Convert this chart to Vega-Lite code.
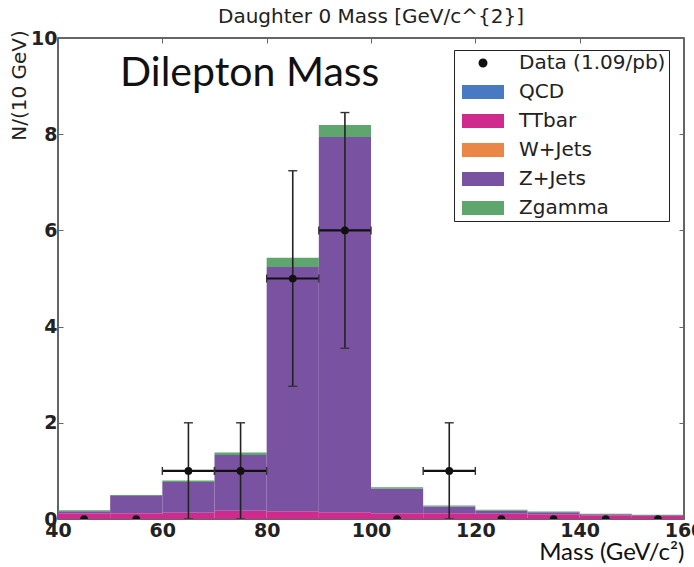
{
  "$schema": "https://vega.github.io/schema/vega-lite/v6.json",
  "width": 626,
  "height": 481,
  "autosize": {"type": "none"},
  "padding": {"left": 58, "top": 38, "right": 10, "bottom": 48},
  "background": "white",
  "title": {
    "text": "Daughter 0 Mass [GeV/c^{2}]",
    "font": "DejaVu Sans",
    "fontSize": 20,
    "fontWeight": "normal",
    "color": "#222",
    "anchor": "middle",
    "offset": 2
  },
  "config": {
    "view": {"stroke": "#333", "strokeWidth": 1.5},
    "axis": {
      "domain": false,
      "grid": false,
      "labelFont": "DejaVu Sans",
      "labelFontWeight": "bold",
      "labelFontSize": 19,
      "labelColor": "#222",
      "labelFlush": false,
      "labelOverlap": false,
      "tickColor": "#666",
      "tickWidth": 1,
      "tickSize": -5,
      "labelPadding": 7
    },
    "legend": {
      "orient": "none",
      "legendX": 396,
      "legendY": 12,
      "title": null,
      "padding": 3,
      "rowPadding": 9,
      "clipHeight": 20,
      "labelFont": "DejaVu Sans",
      "labelFontSize": 20,
      "labelColor": "#222",
      "labelOffset": 42,
      "symbolOffset": 0,
      "symbolSize": 100,
      "symbolStrokeWidth": 0,
      "symbolOpacity": 1,
      "strokeColor": "#222",
      "fillColor": "white",
      "labelLimit": 300
    }
  },
  "datasets": {
    "hist": [
      {"lo": 40, "hi": 50, "series": "QCD", "ord": 1, "value": 0},
      {"lo": 40, "hi": 50, "series": "TTbar", "ord": 2, "value": 0.12},
      {"lo": 40, "hi": 50, "series": "W+Jets", "ord": 3, "value": 0},
      {"lo": 40, "hi": 50, "series": "Z+Jets", "ord": 4, "value": 0.04},
      {"lo": 40, "hi": 50, "series": "Zgamma", "ord": 5, "value": 0.02},
      {"lo": 50, "hi": 60, "series": "QCD", "ord": 1, "value": 0},
      {"lo": 50, "hi": 60, "series": "TTbar", "ord": 2, "value": 0.12},
      {"lo": 50, "hi": 60, "series": "W+Jets", "ord": 3, "value": 0},
      {"lo": 50, "hi": 60, "series": "Z+Jets", "ord": 4, "value": 0.36},
      {"lo": 50, "hi": 60, "series": "Zgamma", "ord": 5, "value": 0.02},
      {"lo": 60, "hi": 70, "series": "QCD", "ord": 1, "value": 0},
      {"lo": 60, "hi": 70, "series": "TTbar", "ord": 2, "value": 0.13},
      {"lo": 60, "hi": 70, "series": "W+Jets", "ord": 3, "value": 0},
      {"lo": 60, "hi": 70, "series": "Z+Jets", "ord": 4, "value": 0.64},
      {"lo": 60, "hi": 70, "series": "Zgamma", "ord": 5, "value": 0.03},
      {"lo": 70, "hi": 80, "series": "QCD", "ord": 1, "value": 0},
      {"lo": 70, "hi": 80, "series": "TTbar", "ord": 2, "value": 0.17},
      {"lo": 70, "hi": 80, "series": "W+Jets", "ord": 3, "value": 0},
      {"lo": 70, "hi": 80, "series": "Z+Jets", "ord": 4, "value": 1.16},
      {"lo": 70, "hi": 80, "series": "Zgamma", "ord": 5, "value": 0.05},
      {"lo": 80, "hi": 90, "series": "QCD", "ord": 1, "value": 0},
      {"lo": 80, "hi": 90, "series": "TTbar", "ord": 2, "value": 0.16},
      {"lo": 80, "hi": 90, "series": "W+Jets", "ord": 3, "value": 0},
      {"lo": 80, "hi": 90, "series": "Z+Jets", "ord": 4, "value": 5.08},
      {"lo": 80, "hi": 90, "series": "Zgamma", "ord": 5, "value": 0.19},
      {"lo": 90, "hi": 100, "series": "QCD", "ord": 1, "value": 0},
      {"lo": 90, "hi": 100, "series": "TTbar", "ord": 2, "value": 0.14},
      {"lo": 90, "hi": 100, "series": "W+Jets", "ord": 3, "value": 0},
      {"lo": 90, "hi": 100, "series": "Z+Jets", "ord": 4, "value": 7.8},
      {"lo": 90, "hi": 100, "series": "Zgamma", "ord": 5, "value": 0.25},
      {"lo": 100, "hi": 110, "series": "QCD", "ord": 1, "value": 0},
      {"lo": 100, "hi": 110, "series": "TTbar", "ord": 2, "value": 0.12},
      {"lo": 100, "hi": 110, "series": "W+Jets", "ord": 3, "value": 0},
      {"lo": 100, "hi": 110, "series": "Z+Jets", "ord": 4, "value": 0.51},
      {"lo": 100, "hi": 110, "series": "Zgamma", "ord": 5, "value": 0.03},
      {"lo": 110, "hi": 120, "series": "QCD", "ord": 1, "value": 0},
      {"lo": 110, "hi": 120, "series": "TTbar", "ord": 2, "value": 0.12},
      {"lo": 110, "hi": 120, "series": "W+Jets", "ord": 3, "value": 0},
      {"lo": 110, "hi": 120, "series": "Z+Jets", "ord": 4, "value": 0.14},
      {"lo": 110, "hi": 120, "series": "Zgamma", "ord": 5, "value": 0.02},
      {"lo": 120, "hi": 130, "series": "QCD", "ord": 1, "value": 0},
      {"lo": 120, "hi": 130, "series": "TTbar", "ord": 2, "value": 0.11},
      {"lo": 120, "hi": 130, "series": "W+Jets", "ord": 3, "value": 0},
      {"lo": 120, "hi": 130, "series": "Z+Jets", "ord": 4, "value": 0.06},
      {"lo": 120, "hi": 130, "series": "Zgamma", "ord": 5, "value": 0.02},
      {"lo": 130, "hi": 140, "series": "QCD", "ord": 1, "value": 0},
      {"lo": 130, "hi": 140, "series": "TTbar", "ord": 2, "value": 0.1},
      {"lo": 130, "hi": 140, "series": "W+Jets", "ord": 3, "value": 0},
      {"lo": 130, "hi": 140, "series": "Z+Jets", "ord": 4, "value": 0.04},
      {"lo": 130, "hi": 140, "series": "Zgamma", "ord": 5, "value": 0.015},
      {"lo": 140, "hi": 150, "series": "QCD", "ord": 1, "value": 0},
      {"lo": 140, "hi": 150, "series": "TTbar", "ord": 2, "value": 0.08},
      {"lo": 140, "hi": 150, "series": "W+Jets", "ord": 3, "value": 0},
      {"lo": 140, "hi": 150, "series": "Z+Jets", "ord": 4, "value": 0.02},
      {"lo": 140, "hi": 150, "series": "Zgamma", "ord": 5, "value": 0.01},
      {"lo": 150, "hi": 160, "series": "QCD", "ord": 1, "value": 0},
      {"lo": 150, "hi": 160, "series": "TTbar", "ord": 2, "value": 0.06},
      {"lo": 150, "hi": 160, "series": "W+Jets", "ord": 3, "value": 0},
      {"lo": 150, "hi": 160, "series": "Z+Jets", "ord": 4, "value": 0.02},
      {"lo": 150, "hi": 160, "series": "Zgamma", "ord": 5, "value": 0.01}
    ],
    "points": [
      {"mass": 45, "n": 0, "nlo": 0, "nhi": 0, "mlo": 40, "mhi": 50, "series": "Data (1.09/pb)"},
      {"mass": 55, "n": 0, "nlo": 0, "nhi": 0, "mlo": 50, "mhi": 60, "series": "Data (1.09/pb)"},
      {"mass": 65, "n": 1, "nlo": 0, "nhi": 2, "mlo": 60, "mhi": 70, "series": "Data (1.09/pb)"},
      {"mass": 75, "n": 1, "nlo": 0, "nhi": 2, "mlo": 70, "mhi": 80, "series": "Data (1.09/pb)"},
      {"mass": 85, "n": 5, "nlo": 2.76, "nhi": 7.24, "mlo": 80, "mhi": 90, "series": "Data (1.09/pb)"},
      {"mass": 95, "n": 6, "nlo": 3.55, "nhi": 8.45, "mlo": 90, "mhi": 100, "series": "Data (1.09/pb)"},
      {"mass": 105, "n": 0, "nlo": 0, "nhi": 0, "mlo": 100, "mhi": 110, "series": "Data (1.09/pb)"},
      {"mass": 115, "n": 1, "nlo": 0, "nhi": 2, "mlo": 110, "mhi": 120, "series": "Data (1.09/pb)"},
      {"mass": 125, "n": 0, "nlo": 0, "nhi": 0, "mlo": 120, "mhi": 130, "series": "Data (1.09/pb)"},
      {"mass": 135, "n": 0, "nlo": 0, "nhi": 0, "mlo": 130, "mhi": 140, "series": "Data (1.09/pb)"},
      {"mass": 145, "n": 0, "nlo": 0, "nhi": 0, "mlo": 140, "mhi": 150, "series": "Data (1.09/pb)"},
      {"mass": 155, "n": 0, "nlo": 0, "nhi": 0, "mlo": 150, "mhi": 160, "series": "Data (1.09/pb)"}
    ],
    "note": [
      {"mass": 51.9, "n": 9.0, "label": "Dilepton Mass"}
    ]
  },
  "layer": [
    {
      "data": {"name": "hist"},
      "transform": [
        {"stack": "value", "groupby": ["lo"], "sort": [{"field": "ord", "order": "ascending"}], "as": ["v0", "v1"]}
      ],
      "mark": {"type": "rect", "opacity": 1, "strokeWidth": 0},
      "encoding": {
        "x": {
          "field": "lo",
          "type": "quantitative",
          "scale": {"domain": [40, 160], "nice": false, "zero": false},
          "axis": {
            "orient": "bottom",
            "values": [40, 60, 80, 100, 120, 140, 160],
            "title": "Mass (GeV/c²)",
            "titleFont": "Lato",
            "titleFontSize": 24,
            "titleFontWeight": "normal",
            "titleColor": "#111",
            "titleX": 626,
            "titleY": 33,
            "titleAlign": "right",
            "titleBaseline": "middle"
          }
        },
        "x2": {"field": "hi"},
        "y": {
          "field": "v0",
          "type": "quantitative",
          "scale": {"domain": [0, 10], "nice": false},
          "axis": {
            "orient": "left",
            "values": [0, 2, 4, 6, 8, 10],
            "title": "N/(10 GeV)",
            "titleFont": "DejaVu Sans",
            "titleFontSize": 20,
            "titleFontWeight": "normal",
            "titleColor": "#222",
            "titleAngle": 270,
            "titleX": -39,
            "titleY": 47,
            "titleAlign": "center",
            "titleBaseline": "middle",
            "labelPadding": 6
          }
        },
        "y2": {"field": "v1"},
        "color": {
          "field": "series",
          "type": "nominal",
          "scale": {
            "domain": ["Data (1.09/pb)", "QCD", "TTbar", "W+Jets", "Z+Jets", "Zgamma"],
            "range": ["#111111", "#4a79c4", "#cf2b8c", "#ea8747", "#7a52a2", "#5fa56e"]
          }
        }
      }
    },
    {
      "data": {"name": "points"},
      "transform": [{"filter": "datum.n > 0"}],
      "mark": {"type": "rule", "color": "#222", "strokeWidth": 1.6},
      "encoding": {
        "x": {"field": "mass", "type": "quantitative", "axis": null},
        "y": {"field": "nlo", "type": "quantitative", "axis": null},
        "y2": {"field": "nhi"}
      }
    },
    {
      "data": {"name": "points"},
      "transform": [{"filter": "datum.n > 0"}],
      "mark": {"type": "rule", "color": "#111", "strokeWidth": 2.2},
      "encoding": {
        "x": {"field": "mlo", "type": "quantitative", "axis": null},
        "x2": {"field": "mhi"},
        "y": {"field": "n", "type": "quantitative", "axis": null}
      }
    },
    {
      "data": {"name": "points"},
      "transform": [{"filter": "datum.n > 0"}],
      "mark": {"type": "tick", "orient": "horizontal", "color": "#333", "size": 9, "thickness": 1.4, "opacity": 1, "clip": true},
      "encoding": {
        "x": {"field": "mass", "type": "quantitative", "axis": null},
        "y": {"field": "nhi", "type": "quantitative", "axis": null}
      }
    },
    {
      "data": {"name": "points"},
      "transform": [{"filter": "datum.n > 0"}],
      "mark": {"type": "tick", "orient": "horizontal", "color": "#333", "size": 9, "thickness": 1.4, "opacity": 1, "clip": true},
      "encoding": {
        "x": {"field": "mass", "type": "quantitative", "axis": null},
        "y": {"field": "nlo", "type": "quantitative", "axis": null}
      }
    },
    {
      "data": {"name": "points"},
      "transform": [{"filter": "datum.n > 0"}],
      "mark": {"type": "tick", "orient": "vertical", "color": "#333", "size": 8, "thickness": 1.4, "opacity": 1},
      "encoding": {
        "x": {"field": "mlo", "type": "quantitative", "axis": null},
        "y": {"field": "n", "type": "quantitative", "axis": null}
      }
    },
    {
      "data": {"name": "points"},
      "transform": [{"filter": "datum.n > 0"}],
      "mark": {"type": "tick", "orient": "vertical", "color": "#333", "size": 8, "thickness": 1.4, "opacity": 1},
      "encoding": {
        "x": {"field": "mhi", "type": "quantitative", "axis": null},
        "y": {"field": "n", "type": "quantitative", "axis": null}
      }
    },
    {
      "data": {"name": "points"},
      "mark": {"type": "point", "shape": "circle", "filled": true, "color": "#111", "opacity": 1, "size": 60, "clip": true},
      "encoding": {
        "x": {
          "field": "mass",
          "type": "quantitative",
          "axis": {"orient": "top", "labels": false, "title": null, "values": [40, 60, 80, 100, 120, 140, 160]}
        },
        "y": {
          "field": "n",
          "type": "quantitative",
          "axis": {"orient": "right", "labels": false, "title": null, "values": [0, 2, 4, 6, 8, 10]}
        }
      }
    },
    {
      "data": {"name": "points"},
      "transform": [{"filter": "false"}],
      "mark": {"type": "point", "filled": true, "opacity": 1},
      "encoding": {
        "color": {"field": "series", "type": "nominal"},
        "shape": {
          "field": "series",
          "type": "nominal",
          "scale": {
            "domain": ["Data (1.09/pb)", "QCD", "TTbar", "W+Jets", "Z+Jets", "Zgamma"],
            "range": [
              "M-2,0L-2,0ZM7.4,0L7.4,0ZM2.3,0A0.9,0.9 0 1,0 4.1,0A0.9,0.9 0 1,0 2.3,0Z",
              "M-2,0L-2,0ZM-1,-1.4H7.4V1.4H-1Z",
              "M-2,0L-2,0ZM-1,-1.4H7.4V1.4H-1Z",
              "M-2,0L-2,0ZM-1,-1.4H7.4V1.4H-1Z",
              "M-2,0L-2,0ZM-1,-1.4H7.4V1.4H-1Z",
              "M-2,0L-2,0ZM-1,-1.4H7.4V1.4H-1Z"
            ]
          }
        }
      }
    },
    {
      "data": {"name": "note"},
      "mark": {"type": "text", "align": "left", "baseline": "alphabetic", "font": "Lato", "fontSize": 41, "color": "#111"},
      "encoding": {
        "x": {"field": "mass", "type": "quantitative", "axis": null},
        "y": {"field": "n", "type": "quantitative", "axis": null},
        "text": {"field": "label"}
      }
    }
  ],
  "resolve": {"axis": {"x": "independent", "y": "independent"}}
}
